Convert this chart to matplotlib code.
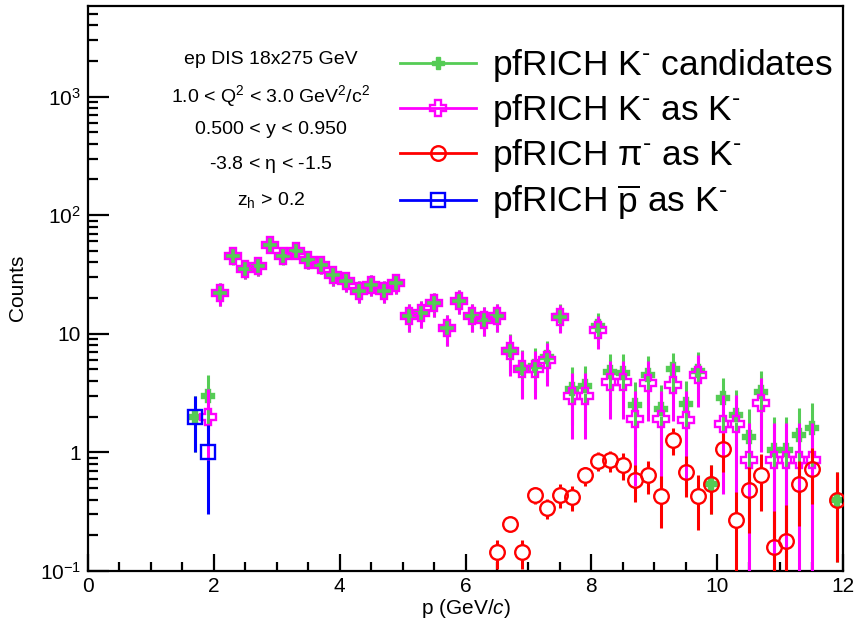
import numpy as np
import matplotlib
matplotlib.use("Agg")
import matplotlib.pyplot as plt
from matplotlib.lines import Line2D
from matplotlib.collections import LineCollection
from matplotlib.ticker import FixedLocator, MultipleLocator, FuncFormatter, NullFormatter

plt.rcParams['font.family'] = ['Liberation Sans', 'DejaVu Sans']
plt.rcParams['mathtext.fontset'] = 'custom'
plt.rcParams['mathtext.rm'] = 'Liberation Sans'
plt.rcParams['mathtext.it'] = 'Liberation Sans:italic'
plt.rcParams['mathtext.bf'] = 'Liberation Sans:bold'

# pfRICH K- candidates (all species identified as K-)
p_cand = [1.7, 1.9, 2.1, 2.3, 2.5, 2.7, 2.9, 3.1, 3.3, 3.5, 3.7, 3.9, 4.1, 4.3, 4.5,
          4.7, 4.9, 5.1, 5.3, 5.5, 5.7, 5.9, 6.1, 6.3, 6.5, 6.7, 6.9, 7.1, 7.3, 7.5,
          7.7, 7.9, 8.1, 8.3, 8.5, 8.7, 8.9, 9.1, 9.3, 9.5, 9.7, 9.9, 10.1, 10.3,
          10.5, 10.7, 10.9, 11.1, 11.3, 11.5, 11.9]
n_cand = [2.0, 3.0, 22, 45, 35, 37, 56, 45, 50, 42, 38, 31, 28, 23, 26,
          23, 27, 14, 15, 18, 11.2, 19, 14, 13.1, 14.1, 7.35, 5.15, 5.4, 6.35, 14.2,
          3.45, 3.6, 11.6, 4.75, 4.7, 2.5, 4.5, 2.3, 5.0, 2.55, 4.9, 0.54, 2.85, 2.05,
          1.35, 3.25, 1.05, 1.05, 1.4, 1.6, 0.40]
e_cand = [1.0, 1.45, 4.7, 6.7, 5.9, 6.1, 7.5, 6.7, 7.1, 6.5, 6.2, 5.6, 5.3, 4.8, 5.1,
          4.8, 5.2, 3.7, 3.9, 4.2, 3.3, 4.4, 3.7, 3.6, 3.7, 2.7, 2.2, 2.2, 2.4, 3.7,
          1.75, 1.75, 3.3, 2.0, 2.0, 1.4, 2.0, 1.4, 1.95, 1.45, 2.1, 0.24, 1.35, 1.3,
          0.95, 1.65, 0.92, 0.92, 0.95, 1.0, 0.28]

# true K- identified as K-
p_kk = [1.9, 2.1, 2.3, 2.5, 2.7, 2.9, 3.1, 3.3, 3.5, 3.7, 3.9, 4.1, 4.3, 4.5,
        4.7, 4.9, 5.1, 5.3, 5.5, 5.7, 5.9, 6.1, 6.3, 6.5, 6.7, 6.9, 7.1, 7.3, 7.5,
        7.7, 7.9, 8.1, 8.3, 8.5, 8.7, 8.9, 9.1, 9.3, 9.5, 9.7, 10.1, 10.3,
        10.5, 10.7, 10.9, 11.1, 11.3, 11.5]
n_kk = [2.0, 22, 45, 35, 37, 56, 45, 50, 42, 38, 31, 28, 23, 26,
        23, 27, 14, 15, 18, 11.2, 19, 14, 13.1, 14, 7.1, 5.0, 5.0, 6.0, 13.8,
        3.0, 3.0, 10.7, 3.9, 3.9, 1.92, 3.85, 1.92, 3.73, 1.87, 4.5, 1.75, 1.75,
        0.87, 2.6, 0.87, 0.87, 0.87, 0.87]
e_kk = [1.4, 4.7, 6.7, 5.9, 6.1, 7.5, 6.7, 7.1, 6.5, 6.2, 5.6, 5.3, 4.8, 5.1,
        4.8, 5.2, 3.7, 3.9, 4.2, 3.3, 4.4, 3.7, 3.6, 3.7, 2.7, 2.2, 2.2, 2.4, 3.7,
        1.7, 1.7, 3.3, 2.0, 2.0, 1.4, 2.0, 1.4, 1.9, 1.4, 2.1, 1.3, 1.3,
        0.9, 1.6, 0.9, 0.9, 0.9, 0.9]

# pi- identified as K-
p_pik = [6.5, 6.7, 6.9, 7.1, 7.3, 7.5, 7.7, 7.9, 8.1, 8.3, 8.5, 8.7, 8.9, 9.1,
         9.3, 9.5, 9.7, 9.9, 10.1, 10.3, 10.5, 10.7, 10.9, 11.1, 11.3, 11.5, 11.9]
n_pik = [0.144, 0.25, 0.144, 0.435, 0.34, 0.44, 0.42, 0.64, 0.85, 0.86, 0.78, 0.585,
         0.65, 0.43, 1.28, 0.68, 0.43, 0.54, 1.07, 0.27, 0.48, 0.64, 0.16, 0.18,
         0.54, 0.73, 0.40]
e_pik = [0.04, 0.03, 0.04, 0.065, 0.065, 0.1, 0.1, 0.12, 0.15, 0.17, 0.2, 0.2,
         0.2, 0.2, 0.33, 0.26, 0.21, 0.24, 0.38, 0.19, 0.27, 0.32, 0.16, 0.18,
         0.3, 0.36, 0.28]

# pbar identified as K-
p_pk = [1.7, 1.9]
n_pk = [2.0, 1.0]
e_pk = [1.0, 0.7]

info_lines = ["ep DIS 18x275 GeV",
              r"1.0 < Q$^{2}$ < 3.0 GeV$^{2}$/c$^{2}$",
              "0.500 < y < 0.950",
              r"-3.8 < $\mathrm{\eta}$ < -1.5",
              r"z$_{\mathrm{h}}$ > 0.2"]
info_y = [59, 96, 129, 165, 200]

GREEN = '#55cc55'
MAGENTA = '#ff00ff'
RED = '#ff0000'
BLUE = '#0000ff'

fig = plt.figure(figsize=(8.59, 6.27), dpi=100)
ax = fig.add_axes([88 / 859, 56 / 627, (843 - 88) / 859, (571 - 6) / 627])
ax.set_yscale('log')
ax.set_xlim(0, 12)
ax.set_ylim(0.1, 5800)


def draw_hist(x, y, err, color, marker, ms, filled, z):
    # error bars with a gap around the marker, like ROOT does
    gap = ms * 100 / 72 / 2
    tr = ax.transData
    inv = tr.inverted()
    segs = []
    for xi, yi, ei in zip(x, y, err):
        px, py = tr.transform((xi, yi))
        glo = inv.transform((px, py - gap))[1]
        ghi = inv.transform((px, py + gap))[1]
        lo = max(yi - ei, 0.02)
        hi = yi + ei
        if lo < glo:
            segs.append([(xi, lo), (xi, glo)])
        if hi > ghi:
            segs.append([(xi, ghi), (xi, hi)])
    ax.add_collection(LineCollection(segs, colors=color, linewidths=2.2, zorder=z))
    ax.plot(x, y, ls='none', marker=marker, ms=ms, mec=color,
            mfc=color if filled else 'none', mew=1.7, zorder=z + 0.5)


draw_hist(p_cand, n_cand, e_cand, GREEN, 'P', 9, True, 2)
draw_hist(p_kk, n_kk, e_kk, MAGENTA, 'P', 12, False, 3)
draw_hist(p_pik, n_pik, e_pik, RED, 'o', 10.5, False, 4)
draw_hist(p_pk, n_pk, e_pk, BLUE, 's', 10.5, False, 5)

# axes style (ROOT-like)
for s in ax.spines.values():
    s.set_linewidth(1.6)
ax.xaxis.set_major_locator(MultipleLocator(2))
ax.xaxis.set_minor_locator(MultipleLocator(0.5))
ax.yaxis.set_major_locator(FixedLocator([0.1, 1, 10, 100, 1000]))
ax.yaxis.set_minor_locator(FixedLocator([m * 10.0 ** e for e in range(-1, 4) for m in range(2, 10)]))
ylabels = {0.1: r'$10^{-1}$', 1: '1', 10: '10', 100: r'$10^{2}$', 1000: r'$10^{3}$'}
ax.yaxis.set_major_formatter(FuncFormatter(lambda v, pos: ylabels.get(round(v, 1), '')))
ax.yaxis.set_minor_formatter(NullFormatter())
ax.tick_params(axis='both', which='both', direction='in', top=False, right=False, width=1.6)
ax.tick_params(axis='y', which='major', length=15, pad=5, labelsize=15)
ax.tick_params(axis='y', which='minor', length=7.5)
ax.tick_params(axis='x', which='major', length=12, pad=4, labelsize=15)
ax.tick_params(axis='x', which='minor', length=6.5)

fig.text(466 / 859, 1 - 608 / 627, r"p (GeV/$c$)", ha='center', va='center', fontsize=15)
fig.text(17 / 859, 1 - 288 / 627, "Counts", ha='center', va='center', rotation=90, fontsize=15)

for line, yc in zip(info_lines, info_y):
    fig.text(271 / 859, 1 - yc / 627, line, ha='center', va='center', fontsize=14)

handles = [
    Line2D([], [], color=GREEN, lw=2, marker='P', ms=9, mfc=GREEN, mec=GREEN),
    Line2D([], [], color=MAGENTA, lw=2, marker='P', ms=12, mfc='none', mec=MAGENTA, mew=1.7),
    Line2D([], [], color=RED, lw=2, marker='o', ms=10.5, mfc='none', mec=RED, mew=1.7),
    Line2D([], [], color=BLUE, lw=2, marker='s', ms=10.5, mfc='none', mec=BLUE, mew=1.7),
]
labels = [r"pfRICH K$^{\text{-}}$ candidates",
          r"pfRICH K$^{\text{-}}$ as K$^{\text{-}}$",
          r"pfRICH $\mathrm{\pi}^{\text{-}}$ as K$^{\text{-}}$",
          r"pfRICH $\overline{\mathrm{p}}$ as K$^{\text{-}}$"]
ax.legend(handles, labels, loc='upper left', bbox_to_anchor=(400 / 859, 1 - 47 / 627),
          bbox_transform=fig.transFigure, frameon=False, fontsize=25.5,
          handlelength=2.15, handletextpad=0.45, labelspacing=0.23,
          borderpad=0, borderaxespad=0)

fig.savefig("out.png", dpi=100)
